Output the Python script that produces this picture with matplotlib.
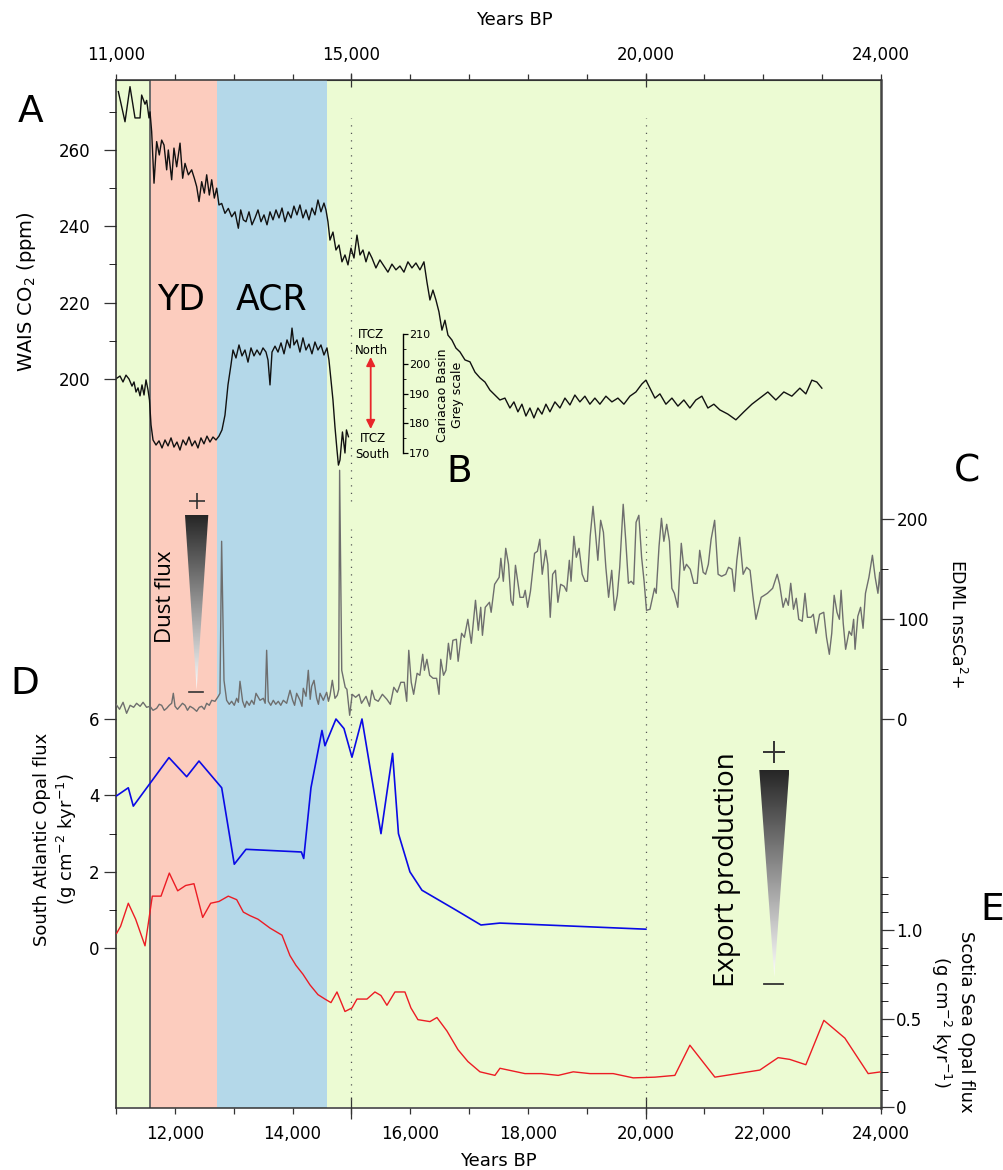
import numpy as np
import matplotlib.pyplot as plt
from matplotlib.ticker import FixedLocator, MultipleLocator, FuncFormatter
from matplotlib.colors import LinearSegmentedColormap
from matplotlib.patches import Polygon

# ---- data (age in years BP, value) ----
yd_start, yd_end, acr_end = 11578, 12716, 14585

co2 = np.array([
    [11040, 275.3], [11153, 267.4], [11238, 276.6], [11323, 268.4], [11408, 268.4],
    [11436, 274.4], [11493, 272.0], [11521, 273.0], [11561, 268.4], [11578, 270.0],
    [11606, 264.8], [11646, 251.3], [11691, 262.2], [11736, 258.7], [11776, 262.6],
    [11816, 261.3], [11861, 254.8], [11889, 260.0], [11946, 252.2], [11985, 260.5],
    [12031, 255.6], [12088, 261.8], [12133, 252.6], [12173, 256.5], [12230, 253.5],
    [12286, 254.8], [12331, 252.6], [12371, 250.4], [12411, 246.5], [12456, 251.7],
    [12501, 248.7], [12541, 253.5], [12586, 248.2], [12626, 252.2], [12671, 247.4],
    [12711, 250.0], [12750, 245.6], [12796, 246.0], [12852, 243.4], [12909, 244.7],
    [12966, 242.5], [13022, 243.8], [13079, 239.5], [13119, 244.3], [13164, 241.7],
    [13209, 241.2], [13260, 243.8], [13311, 240.4], [13362, 242.2], [13413, 244.3],
    [13464, 241.2], [13515, 243.0], [13566, 240.4], [13617, 243.8], [13668, 241.7],
    [13719, 244.3], [13770, 242.2], [13821, 244.8], [13872, 241.2], [13923, 243.8],
    [13974, 242.2], [14024, 245.3], [14075, 243.0], [14126, 245.6], [14177, 242.2],
    [14228, 244.3], [14279, 241.7], [14330, 244.8], [14381, 243.0], [14432, 246.9],
    [14483, 243.8], [14534, 246.1], [14568, 244.3], [14602, 241.2], [14636, 236.4],
    [14687, 238.5], [14738, 233.8], [14789, 235.1], [14840, 230.7], [14891, 232.5],
    [14942, 229.9], [14993, 234.3], [15044, 231.7], [15095, 237.7], [15146, 232.5],
    [15197, 233.8], [15248, 230.7], [15299, 233.3], [15350, 231.7], [15417, 229.1],
    [15485, 231.2], [15553, 229.6], [15621, 228.0], [15689, 230.1], [15757, 228.6],
    [15825, 229.6], [15893, 228.0], [15961, 230.7], [16029, 229.1], [16097, 230.4],
    [16165, 228.6], [16233, 230.7], [16284, 225.4], [16335, 220.7], [16386, 223.3],
    [16437, 220.7], [16488, 217.6], [16539, 212.8], [16590, 215.4], [16641, 211.5],
    [16709, 210.2], [16777, 208.1], [16845, 207.1], [16930, 205.0], [17015, 204.5],
    [17100, 201.8], [17185, 200.3], [17270, 199.2], [17354, 197.1], [17439, 195.8],
    [17524, 194.5], [17609, 195.0], [17694, 192.4], [17762, 194.0], [17830, 191.4],
    [17898, 193.4], [17966, 190.3], [18034, 192.4], [18102, 189.8], [18170, 192.4],
    [18238, 190.8], [18306, 193.4], [18374, 191.4], [18459, 194.0], [18544, 192.4],
    [18629, 195.0], [18714, 193.2], [18798, 195.8], [18883, 194.0], [18968, 195.5],
    [19053, 193.4], [19138, 195.0], [19223, 193.4], [19325, 195.5], [19427, 194.0],
    [19529, 195.0], [19631, 193.4], [19733, 195.5], [19835, 196.6], [19937, 198.7],
    [20005, 199.7], [20073, 197.6], [20158, 195.0], [20243, 196.1], [20345, 193.4],
    [20447, 195.0], [20549, 192.9], [20650, 194.5], [20752, 192.4], [20854, 194.5],
    [20956, 195.5], [21058, 192.4], [21160, 193.4], [21262, 191.9], [21398, 190.8],
    [21534, 189.3], [21670, 191.4], [21806, 193.4], [21941, 195.0], [22077, 196.6],
    [22213, 194.5], [22349, 196.6], [22485, 195.5], [22621, 197.6], [22723, 196.1],
    [22825, 199.7], [22910, 199.2], [22995, 197.6],
])

cariaco = np.array([
    [11017, 195.2], [11068, 195.9], [11119, 193.9], [11170, 196.2], [11221, 194.9],
    [11272, 192.5], [11306, 193.9], [11340, 190.5], [11374, 191.9], [11408, 189.2],
    [11442, 192.9], [11476, 189.5], [11510, 194.6], [11544, 191.2], [11569, 187.8],
    [11595, 179.4], [11629, 174.3], [11680, 172.6], [11731, 174.0], [11782, 171.6],
    [11833, 174.3], [11884, 172.3], [11935, 175.0], [11985, 171.9], [12036, 173.6],
    [12087, 170.9], [12138, 174.3], [12189, 172.6], [12240, 175.3], [12291, 172.3],
    [12342, 174.0], [12393, 171.6], [12444, 175.0], [12495, 173.0], [12546, 175.6],
    [12597, 173.6], [12648, 175.3], [12699, 174.3], [12750, 175.6], [12801, 177.7],
    [12852, 182.7], [12903, 192.9], [12954, 199.7], [12988, 204.7], [13039, 202.0],
    [13090, 206.4], [13141, 202.7], [13192, 204.7], [13243, 200.6], [13294, 205.4],
    [13345, 202.7], [13396, 204.7], [13447, 203.0], [13498, 205.4], [13549, 204.0],
    [13583, 201.3], [13617, 192.9], [13651, 204.0], [13702, 206.0], [13753, 204.0],
    [13804, 207.1], [13855, 203.4], [13906, 208.1], [13957, 205.4], [13991, 212.1],
    [14024, 206.4], [14075, 208.1], [14126, 204.0], [14177, 208.8], [14228, 204.7],
    [14279, 206.7], [14330, 203.4], [14381, 207.4], [14432, 204.7], [14483, 206.4],
    [14534, 203.0], [14585, 205.4], [14619, 201.3], [14653, 194.6], [14687, 187.8],
    [14721, 178.7], [14755, 171.0], [14780, 165.8], [14806, 167.5], [14848, 177.0],
    [14891, 169.9], [14916, 177.7], [14950, 175.4],
])

edml = np.array([
    [11000, 15], [11060, 10], [11120, 17], [11180, 6], [11240, 14], [11300, 12],
    [11350, 16], [11410, 13], [11460, 17], [11520, 12], [11578, 13], [11630, 9],
    [11691, 11], [11735, 15], [11776, 14], [11820, 9], [11861, 11], [11905, 14],
    [11946, 16], [11974, 26], [12003, 13], [12045, 10], [12088, 13], [12130, 16],
    [12173, 14], [12215, 9], [12258, 13], [12314, 11], [12371, 8], [12415, 12],
    [12456, 13], [12500, 10], [12541, 16], [12585, 14], [12626, 19], [12682, 18],
    [12739, 23], [12767, 26], [12795, 178], [12835, 39], [12880, 19], [12925, 15],
    [12965, 18], [13010, 14], [13050, 21], [13080, 17], [13107, 38], [13152, 18],
    [13190, 12], [13220, 18], [13265, 14], [13305, 19], [13345, 15], [13379, 26],
    [13447, 19], [13503, 21], [13535, 16], [13560, 69], [13588, 18], [13630, 14],
    [13673, 19], [13715, 15], [13758, 18], [13800, 14], [13843, 19], [13900, 16],
    [13957, 29], [14002, 19], [14035, 14], [14070, 26], [14127, 19], [14160, 13],
    [14183, 31], [14229, 23], [14268, 49], [14300, 20], [14325, 33], [14365, 39],
    [14410, 21], [14440, 15], [14467, 26], [14523, 19], [14580, 27], [14610, 18],
    [14637, 24], [14676, 39], [14721, 21], [14760, 24], [14785, 30], [14800, 249],
    [14836, 49], [14895, 32], [14924, 30], [14971, 4], [15013, 25], [15072, 22],
    [15131, 25], [15172, 16], [15249, 23], [15308, 13], [15349, 29], [15397, 20],
    [15456, 18], [15527, 25], [15603, 20], [15662, 15], [15721, 32], [15780, 27],
    [15840, 37], [15899, 37], [15940, 18], [15975, 69], [16017, 37], [16058, 25],
    [16117, 46], [16164, 44], [16212, 65], [16241, 49], [16283, 60], [16330, 44],
    [16389, 41], [16448, 41], [16489, 25], [16519, 60], [16566, 44], [16607, 49],
    [16649, 76], [16684, 60], [16725, 79], [16784, 80], [16814, 58], [16873, 86],
    [16920, 82], [16979, 100], [17038, 76], [17109, 119], [17157, 89], [17198, 112],
    [17227, 84], [17275, 112], [17346, 117], [17375, 107], [17434, 135], [17511, 142],
    [17540, 161], [17582, 138], [17623, 171], [17670, 155], [17712, 119], [17747, 114],
    [17788, 154], [17865, 122], [17924, 122], [17954, 129], [17995, 112], [18043, 128],
    [18113, 166], [18161, 168], [18202, 180], [18243, 145], [18302, 169], [18338, 155],
    [18379, 102], [18420, 145], [18468, 149], [18509, 117], [18556, 135], [18615, 133],
    [18657, 128], [18704, 159], [18733, 138], [18781, 183], [18822, 162], [18869, 171],
    [18922, 145], [18970, 138], [19011, 138], [19058, 183], [19106, 213], [19147, 187],
    [19188, 159], [19236, 199], [19283, 187], [19324, 152], [19371, 122], [19424, 149],
    [19472, 109], [19519, 124], [19560, 152], [19619, 215], [19661, 180], [19708, 136],
    [19755, 138], [19797, 135], [19838, 197], [19885, 204], [19932, 162], [19974, 138],
    [20015, 109], [20074, 110], [20151, 131], [20180, 126], [20228, 173], [20269, 201],
    [20310, 178], [20358, 195], [20405, 178], [20446, 131], [20488, 126], [20547, 112],
    [20606, 176], [20653, 149], [20694, 155], [20759, 150], [20818, 136], [20877, 136],
    [20919, 169], [20978, 147], [21019, 145], [21066, 155], [21113, 180], [21173, 199],
    [21232, 145], [21291, 143], [21362, 145], [21409, 152], [21468, 150], [21509, 128],
    [21550, 159], [21598, 182], [21657, 145], [21716, 152], [21775, 149], [21822, 124],
    [21875, 100], [21964, 122], [22070, 126], [22159, 131], [22236, 145], [22277, 135],
    [22336, 112], [22383, 121], [22425, 114], [22466, 136], [22513, 110], [22560, 121],
    [22602, 100], [22661, 98], [22708, 126], [22750, 102], [22809, 102], [22850, 105],
    [22897, 86], [22956, 105], [23027, 107], [23074, 82], [23122, 65], [23163, 86],
    [23204, 124], [23252, 107], [23293, 100], [23322, 129], [23358, 96], [23399, 70],
    [23458, 88], [23500, 84], [23535, 100], [23559, 70], [23606, 103], [23653, 112],
    [23695, 91], [23736, 126], [23795, 142], [23854, 164], [23901, 142], [23948, 126],
    [23978, 147], [24000, 120],
])

sa_opal = np.array([
    [11010, 3.99], [11209, 4.20], [11294, 3.72], [11900, 4.99], [12201, 4.49],
    [12410, 4.90], [12796, 4.20], [13010, 2.20], [13209, 2.59], [14150, 2.52],
    [14190, 2.35], [14313, 4.20], [14500, 5.70], [14551, 5.30], [14738, 6.00],
    [14874, 5.75], [15010, 5.00], [15180, 6.00], [15503, 3.00], [15700, 5.10],
    [15800, 3.00], [15995, 2.00], [16199, 1.52], [16777, 1.00], [17202, 0.61],
    [17524, 0.66], [20005, 0.50],
])

scotia = np.array([
    [11010, 0.98], [11078, 1.02], [11209, 1.15], [11334, 1.06], [11493, 0.91],
    [11617, 1.19], [11765, 1.19], [11906, 1.32], [12048, 1.22], [12184, 1.25],
    [12325, 1.26], [12473, 1.07], [12609, 1.15], [12750, 1.16], [12908, 1.19],
    [13051, 1.17], [13164, 1.10], [13277, 1.08], [13413, 1.06], [13617, 1.01],
    [13821, 0.97], [13956, 0.855], [14058, 0.80], [14177, 0.75], [14296, 0.69],
    [14432, 0.635], [14551, 0.61], [14653, 0.59], [14755, 0.65], [14891, 0.54],
    [15010, 0.56], [15095, 0.61], [15265, 0.61], [15400, 0.65], [15502, 0.63],
    [15604, 0.575], [15740, 0.65], [15910, 0.65], [16012, 0.56], [16131, 0.494],
    [16335, 0.483], [16454, 0.506], [16624, 0.43], [16811, 0.325], [16980, 0.258],
    [17185, 0.20], [17439, 0.18], [17525, 0.22], [17950, 0.19], [18230, 0.19],
    [18515, 0.18], [18770, 0.20], [19053, 0.19], [19449, 0.19], [19789, 0.166],
    [20158, 0.17], [20497, 0.18], [20752, 0.35], [21177, 0.17], [21941, 0.21],
    [22252, 0.28], [22450, 0.27], [22723, 0.24], [23029, 0.49], [23386, 0.39],
    [23782, 0.19], [24000, 0.20],
])

# ---- figure geometry (pixels) ----
W, H = 1004, 1170
L, R, T, B = 116, 881, 80, 1107.5
fig = plt.figure(figsize=(W / 100, H / 100), dpi=100)
rect = [L / W, 1 - B / H, (R - L) / W, (B - T) / H]

TC = '#333333'
green, salmon, lblue = '#ECFBD3', '#FCCCBE', '#B4D8E9'


def lims(v0, p0, v1, p1):
    # y-limits so that value v0 sits at pixel row p0 and v1 at p1
    s = (p1 - p0) / (v0 - v1)
    return v0 - (B - p0) / s, v0 + (p0 - T) / s


def frac(py):
    return (B - py) / (B - T)


def layer(ylim, side):
    a = fig.add_axes(rect)
    a.set_xlim(11000, 24000)
    a.set_ylim(*ylim)
    a.patch.set_visible(False)
    for s in a.spines.values():
        s.set_visible(False)
    a.tick_params(axis='x', bottom=False, labelbottom=False)
    if side == 'right':
        a.yaxis.tick_right()
    a.tick_params(axis='y', colors=TC, labelcolor='black', labelsize=12, width=0.9)
    a.tick_params(axis='y', which='major', length=9)
    a.tick_params(axis='y', which='minor', length=4.7)
    return a


comma = FuncFormatter(lambda v, p: f"{int(v):,}")

# ---- base axes: CO2 (A), background bands, frame ----
axA = fig.add_axes(rect, facecolor=green)
axA.set_xlim(11000, 24000)
axA.set_ylim(*lims(260, 150, 200, 379))
axA.axvspan(yd_start, yd_end, color=salmon, lw=0)
axA.axvspan(yd_end, acr_end, color=lblue, lw=0)
axA.axvline(yd_start, color='#6a6a6a', lw=1.4)
for xv in (15000, 20000):
    for y0, y1 in ((118, 501), (529, 1100)):
        axA.axvline(xv, frac(y1), frac(y0), color='#555555', lw=0.9, ls=(0, (1, 5)))
axA.plot(co2[:, 0], co2[:, 1], color='#111111', lw=1.0)

for side, s in axA.spines.items():
    s.set_color(TC)
    s.set_linewidth(1.1)
axA.spines['right'].set_linewidth(1.8)
axA.spines['right'].set_color('#444444')
axA.spines['left'].set_color('#222222')

axA.xaxis.set_major_locator(FixedLocator(range(12000, 24001, 2000)))
axA.xaxis.set_minor_locator(MultipleLocator(1000))
axA.xaxis.set_major_formatter(comma)
axA.tick_params(axis='x', which='both', length=4.3, width=0.9, colors=TC,
                labelcolor='black', labelsize=12, pad=8)
axA.yaxis.set_major_locator(FixedLocator([200, 220, 240, 260]))
axA.yaxis.set_minor_locator(FixedLocator([210, 230, 250, 270]))
axA.tick_params(axis='y', colors=TC, labelcolor='black', labelsize=12, width=0.9, pad=9.5)
axA.tick_params(axis='y', which='major', length=9)
axA.tick_params(axis='y', which='minor', length=4.7)

top = axA.secondary_xaxis('top')
top.xaxis.set_major_locator(FixedLocator([11000, 15000, 20000, 24000]))
top.xaxis.set_minor_locator(MultipleLocator(1000))
top.xaxis.set_major_formatter(comma)
top.tick_params(which='both', length=4.3, width=0.9, colors=TC, labelcolor='black',
                labelsize=12, pad=7)
top.spines['top'].set_color(TC)

top2 = axA.secondary_xaxis('top')
top2.set_xticks([15000, 20000], labels=['', ''])
top2.tick_params(direction='inout', length=10, width=0.9, colors=TC)
for s in top2.spines.values():
    s.set_visible(False)
bot2 = axA.secondary_xaxis('bottom')
bot2.set_xticks([15000, 20000], labels=['', ''])
bot2.tick_params(direction='inout', length=16, width=0.9, colors=TC)
for s in bot2.spines.values():
    s.set_visible(False)

# ---- B: Cariaco grey scale ----
axB = layer(lims(210, 334.3, 170, 452.7), 'right')
axB.plot(cariaco[:, 0], cariaco[:, 1], color='#111111', lw=1.0)
axB.spines['right'].set_visible(True)
axB.spines['right'].set_position(('data', 15872))
axB.spines['right'].set_bounds(170, 210)
axB.spines['right'].set_linewidth(1.0)
axB.yaxis.set_major_locator(FixedLocator([170, 180, 190, 200, 210]))
axB.yaxis.set_minor_locator(FixedLocator([175, 185, 195, 205]))
axB.tick_params(axis='y', labelsize=8, pad=1.2, colors='black')
axB.tick_params(axis='y', which='major', length=3.4)
axB.tick_params(axis='y', which='minor', length=2.3)

# ---- C: EDML nssCa ----
axC = layer(lims(200, 519.3, 0, 719.3), 'right')
axC.plot(edml[:, 0], edml[:, 1], color='#6e6e6e', lw=1.0)
axC.yaxis.set_major_locator(FixedLocator([0, 100, 200]))
axC.yaxis.set_minor_locator(FixedLocator([50, 150]))
axC.tick_params(axis='y', pad=2.7)

# ---- D: South Atlantic opal ----
axD = layer(lims(6, 719, 0, 948.3), 'left')
axD.plot(sa_opal[:, 0], sa_opal[:, 1], color='#0a0ae6', lw=1.2)
axD.yaxis.set_major_locator(FixedLocator([0, 2, 4, 6]))
axD.yaxis.set_minor_locator(FixedLocator([1, 3, 5]))
axD.tick_params(axis='y', pad=3)

# ---- E: Scotia Sea opal ----
axE = layer(lims(1.0, 930, 0, B), 'right')
axE.set_ylim(-0.001, axE.get_ylim()[1])
axE.plot(scotia[:, 0], scotia[:, 1], color='#ec1c24', lw=1.0)
axE.yaxis.set_major_locator(FixedLocator([0, 0.5, 1.0]))
axE.yaxis.set_minor_locator(FixedLocator([0.1, 0.2, 0.3, 0.4, 0.6, 0.7, 0.8, 0.9, 1.1, 1.2, 1.3]))
axE.yaxis.set_major_formatter(FuncFormatter(lambda v, p: '0' if v == 0 else f"{v:.1f}"))
axE.tick_params(axis='y', pad=1.7)

# ---- overlay for annotations (pixel coordinates) ----
ov = fig.add_axes([0, 0, 1, 1])
ov.axis('off')
ov.set_autoscale_on(False)
ov.set_xlim(0, W)
ov.set_ylim(H, 0)

cmap = LinearSegmentedColormap.from_list('wedge', ['#262626', '#ffffff'])


def wedge(xl, xr, ytop, ytip):
    grad = np.linspace(0, 1, 256).reshape(-1, 1)
    im = ov.imshow(grad, cmap=cmap, extent=(xl, xr, ytip, ytop), aspect='auto',
                   origin='upper', zorder=3)
    tri = Polygon([(xl, ytop), (xr, ytop), ((xl + xr) / 2, ytip)], closed=True,
                  facecolor='none', edgecolor='none')
    ov.add_patch(tri)
    im.set_clip_path(tri)


wedge(185, 208.3, 515, 690)
ov.plot(196.6, 500.5, marker='+', ms=12, mew=1.2, color='#333333')
ov.plot([189.5, 203.5], [692.3, 692.3], color='#333333', lw=1.2)
ov.text(166, 597, 'Dust flux', rotation=90, ha='center', va='center', fontsize=16,
        family='Open Sans')

wedge(759.3, 789.3, 770, 977)
ov.plot(774, 751.7, marker='+', ms=15.5, mew=1.4, color='#333333')
ov.plot([764.5, 783.5], [984.3, 984.3], color='#333333', lw=1.3)
ov.text(727, 870, 'Export production', rotation=90, ha='center', va='center', fontsize=20,
        family='Open Sans')

ov.annotate('', xy=(370.7, 357), xytext=(370.7, 429),
            arrowprops=dict(arrowstyle='<|-|>', color='#e8262a', lw=1.3, mutation_scale=13,
                            shrinkA=0, shrinkB=0))
ov.text(371, 342, 'ITCZ\nNorth', ha='center', va='center', fontsize=8.5, linespacing=1.3)
ov.text(372.5, 447, 'ITCZ\nSouth', ha='center', va='center', fontsize=8.5, linespacing=1.3)
ov.text(450, 395, 'Cariacao Basin\nGrey scale', rotation=90, ha='center', va='center',
        fontsize=9, linespacing=1.25)

ov.text(181, 300, 'YD', ha='center', va='center', fontsize=25)
ov.text(272, 300, 'ACR', ha='center', va='center', fontsize=25)

for lab, x, y in (('A', 31, 112), ('B', 459, 472), ('C', 967, 472), ('D', 25, 684),
                  ('E', 992, 910)):
    ov.text(x, y, lab, ha='center', va='center', fontsize=27)

ov.text(27, 292, 'WAIS CO$_2$ (ppm)', rotation=90, ha='center', va='center', fontsize=14)
ov.text(56, 839, 'South Atlantic Opal flux\n(g cm$^{-2}$ kyr$^{-1}$)', rotation=90,
        ha='center', va='center', fontsize=13, linespacing=1.25)
ov.text(957, 624, 'EDML nssCa$^{2}$+', rotation=270, ha='center', va='center', fontsize=12.5)
ov.text(952, 1022, 'Scotia Sea Opal flux\n(g cm$^{-2}$ kyr$^{-1}$)', rotation=270,
        ha='center', va='center', fontsize=13, linespacing=1.25)
ov.text(514, 20, 'Years BP', ha='center', va='center', fontsize=13)
ov.text(498, 1161, 'Years BP', ha='center', va='center', fontsize=13)

fig.savefig('out.png', dpi=100)
